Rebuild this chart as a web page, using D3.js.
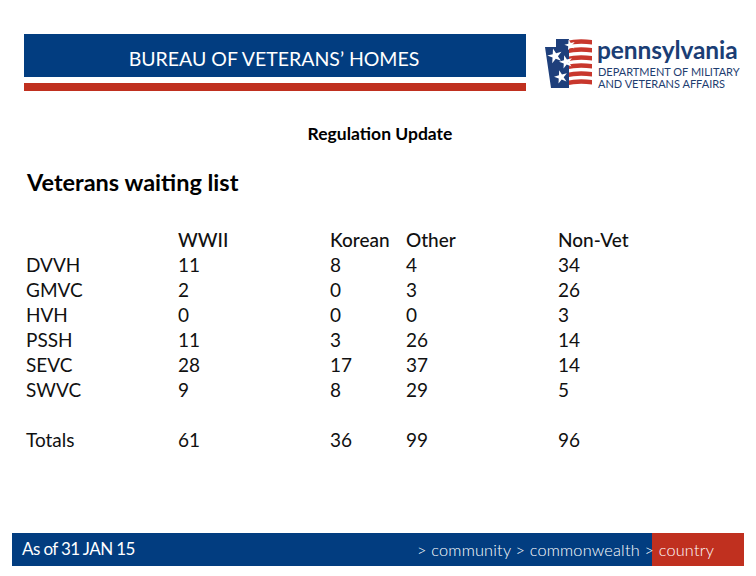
<!DOCTYPE html>
<html>
<head>
<meta charset="utf-8">
<script src="https://cdn.jsdelivr.net/npm/d3@7"></script>
<style>
  body { margin: 0; background: #fff; }
  svg { display: block; font-family: Lato, "Open Sans", sans-serif; }
</style>
</head>
<body>
<svg id="slide" width="756" height="576"></svg>
<script>
// table data
var homes = ["DVVH", "GMVC", "HVH", "PSSH", "SEVC", "SWVC"];
var columns = ["WWII", "Korean", "Other", "Non-Vet"];
var wwii = [11, 2, 0, 11, 28, 9];
var korean = [8, 0, 0, 3, 17, 8];
var other = [4, 3, 0, 26, 37, 29];
var nonVet = [34, 26, 3, 14, 14, 5];
var totals = [61, 36, 99, 96];

var blue = "#023d80", red = "#c0301f";
var svg = d3.select("#slide");

// header bars
svg.append("rect").attr("x", 24).attr("y", 34).attr("width", 502).attr("height", 43).attr("fill", blue);
svg.append("rect").attr("x", 24).attr("y", 83).attr("width", 502).attr("height", 8).attr("fill", red);
svg.append("text").attr("x", 274).attr("y", 66).attr("text-anchor", "middle")
  .attr("fill", "#fff").style("font-size", "19.5px").text("BUREAU OF VETERANS’ HOMES");

// logo
var logo = svg.append("g");
var stripes = [0, 1, 2, 3, 4, 5];
logo.selectAll(".stripe").data(stripes).join("path").attr("class", "stripe")
  .attr("d", function(i) {
    var y = 41 + i * 8;
    return "M566," + y + " Q578," + (y - 3) + " 592," + (y - 1) + " L592," + (y + 3.5) +
      " Q578," + (y + 1.5) + " 566," + (y + 4.5) + "Z";
  })
  .attr("fill", "#c8372d");
logo.append("path").attr("d", "M545,47 L556,47 L556,39 L569,39 L569,88 L551,88 Z").attr("fill", "#1e3f7b");
var stars = [[570, 45, 4], [555, 56, 5.5], [566, 62, 5], [561, 77, 5]];
var star = d3.symbol().type(d3.symbolStar);
logo.selectAll(".star").data(stars).join("path").attr("class", "star")
  .attr("transform", function(d) { return "translate(" + d[0] + "," + d[1] + ") rotate(-15)"; })
  .attr("d", function(d) { return star.size(d[2] * d[2] * 2.2)(); })
  .attr("fill", "#fff");
logo.append("text").attr("x", 597).attr("y", 59).attr("fill", "#1b3e75")
  .style("font-size", "24.5px").style("font-weight", "700").style("letter-spacing", "-0.1px").text("pennsylvania");
logo.append("text").attr("x", 598).attr("y", 76).attr("fill", "#1e3d70")
  .style("font-size", "11px").text("DEPARTMENT OF MILITARY");
logo.append("text").attr("x", 598).attr("y", 88).attr("fill", "#1e3d70")
  .style("font-size", "11px").text("AND VETERANS AFFAIRS");

// titles
svg.append("text").attr("x", 380).attr("y", 140).attr("text-anchor", "middle")
  .style("font-size", "17.5px").style("font-weight", "700").text("Regulation Update");
svg.append("text").attr("x", 27).attr("y", 191)
  .style("font-size", "23.5px").style("font-weight", "700").text("Veterans waiting list");

// table layout: column slots on a 7-unit grid, row slots 0..8
var x = d3.scaleLinear().domain([0, 7]).range([26, 558]);
var colSlot = [2, 4, 5, 7];
var y = d3.scaleLinear().domain([0, 8]).range([247, 447]);

var table = svg.append("g").style("font-size", "19px").attr("fill", "#111");
table.selectAll(".colhead").data(columns).join("text").attr("class", "colhead")
  .attr("x", function(d, i) { return x(colSlot[i]); }).attr("y", y(0))
  .style("font-weight", "500").text(function(d) { return d; });
table.selectAll(".rowhead").data(homes.concat(["Totals"])).join("text").attr("class", "rowhead")
  .attr("x", x(0)).attr("y", function(d, i) { return i < homes.length ? y(i + 1) : y(8); })
  .text(function(d) { return d; });

var series = [wwii, korean, other, nonVet];
series.forEach(function(vals, c) {
  table.selectAll(".c" + c).data(vals).join("text").attr("class", "c" + c)
    .attr("x", x(colSlot[c])).attr("y", function(d, i) { return y(i + 1); })
    .text(function(d) { return d; });
});
table.selectAll(".tot").data(totals).join("text").attr("class", "tot")
  .attr("x", function(d, i) { return x(colSlot[i]); }).attr("y", y(8))
  .text(function(d) { return d; });

// footer
svg.append("rect").attr("x", 12).attr("y", 533).attr("width", 640).attr("height", 33).attr("fill", blue);
svg.append("rect").attr("x", 652).attr("y", 533).attr("width", 92).attr("height", 33).attr("fill", red);
svg.append("text").attr("x", 22).attr("y", 555).attr("fill", "#fff")
  .style("font-size", "17px").style("letter-spacing", "-0.6px").text("As of 31 JAN 15");
svg.append("text").attr("x", 714).attr("y", 556).attr("text-anchor", "end").attr("fill", "#fff")
  .style("font-size", "16.3px").style("font-weight", "300").style("letter-spacing", "0.2px")
  .text("> community > commonwealth  > country");
</script>
</body>
</html>
